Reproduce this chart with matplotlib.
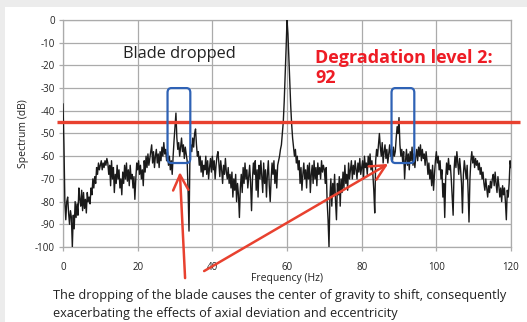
import numpy as np
import matplotlib
matplotlib.use("Agg")
import matplotlib.pyplot as plt
from matplotlib.patches import FancyBboxPatch, Rectangle

plt.rcParams["font.family"] = ["Open Sans", "DejaVu Sans"]
plt.rcParams["axes.unicode_minus"] = False

# spectrum of the dropped-blade case, 0.25 Hz bins, 0-120 Hz (dB)
spectrum_db = [
    -37, -55, -80, -88, -80, -78, -85, -90, -84, -87, -100, -86, -92, -80, -87, -81, -86, -74, -79, -82,
    -75, -84, -76, -83, -79, -85, -76, -80, -78, -81, -74, -77, -70, -74, -69, -72, -65, -68, -63, -66,
    -64, -62, -66, -63, -65, -62, -64, -61, -63, -68, -64, -73, -62, -70, -65, -76, -68, -72, -64, -70,
    -66, -74, -70, -77, -67, -72, -64, -70, -63, -71, -66, -73, -64, -70, -68, -74, -69, -79, -70, -63,
    -66, -62, -68, -64, -70, -66, -73, -62, -67, -60, -65, -59, -64, -61, -58, -55, -63, -58, -65, -60,
    -57, -63, -59, -65, -58, -62, -56, -60, -54, -59, -57, -62, -58, -64, -60, -66, -62, -68, -60, -53,
    -47, -41, -52, -57, -54, -60, -56, -52, -58, -55, -61, -56, -59, -62, -75, -93, -60, -55, -58, -52,
    -56, -50, -48, -55, -60, -58, -64, -60, -67, -62, -69, -64, -66, -60, -68, -62, -70, -65, -61, -67,
    -60, -66, -62, -70, -64, -60, -58, -63, -69, -62, -66, -72, -64, -68, -61, -67, -70, -65, -72, -68,
    -74, -67, -78, -70, -75, -68, -80, -72, -77, -87, -74, -68, -76, -65, -72, -63, -70, -66, -74, -69,
    -64, -72, -84, -70, -63, -68, -62, -75, -66, -78, -64, -70, -62, -69, -76, -63, -72, -66, -78, -68,
    -62, -73, -80, -70, -63, -68, -62, -72, -66, -74, -64, -62, -60, -57, -55, -50, -45, -36, -25, -13,
    0, -6, -17, -28, -38, -46, -52, -56, -60, -57, -63, -60, -66, -62, -72, -65, -75, -68, -63, -70,
    -66, -74, -64, -70, -63, -76, -68, -64, -72, -62, -70, -65, -73, -63, -68, -65, -70, -62, -67, -64,
    -66, -72, -65, -80, -88, -100, -78, -70, -82, -72, -77, -68, -80, -88, -72, -77, -69, -82, -70, -76,
    -67, -74, -64, -72, -68, -75, -63, -70, -66, -62, -70, -64, -68, -62, -66, -70, -63, -67, -61, -68,
    -65, -62, -70, -60, -65, -63, -68, -60, -64, -59, -66, -62, -68, -75, -85, -62, -57, -60, -55, -50,
    -56, -60, -54, -63, -58, -55, -61, -57, -63, -59, -55, -60, -57, -62, -56, -60, -58, -52, -47, -50,
    -43, -55, -60, -57, -63, -58, -70, -62, -57, -64, -59, -66, -58, -62, -56, -64, -59, -65, -60, -57,
    -62, -56, -60, -55, -62, -57, -61, -59, -64, -58, -62, -68, -63, -70, -66, -73, -64, -75, -68, -62,
    -58, -63, -60, -66, -62, -70, -66, -78, -72, -87, -70, -63, -68, -61, -66, -64, -70, -78, -86, -66,
    -60, -65, -58, -63, -68, -61, -66, -72, -85, -68, -62, -66, -70, -64, -75, -89, -70, -62, -58, -63,
    -60, -65, -61, -64, -62, -66, -63, -68, -65, -70, -67, -72, -75, -70, -74, -78, -73, -76, -71, -74,
    -70, -68, -73, -67, -72, -76, -69, -73, -78, -74, -80, -73, -77, -74, -80, -88, -75, -78, -72, -62,
    -65,
]
freq_hz = np.linspace(0, 120, len(spectrum_db))

threshold_db = -45
box_spans = [(28.0, 34.1), (88.0, 94.1)]   # Hz ranges of the highlighted sidebands
box_db = (-63, -30)

x_ticks = [0, 20, 40, 60, 80, 100, 120]
y_ticks = list(range(-100, 1, 10))

RED_LINE = "#e8412f"
RED_TEXT = "#ee1c25"
BLUE = "#2f62b5"
GRID = "#ababab"

fig = plt.figure(figsize=(5.27, 3.22), dpi=100, facecolor="#ececec")
fig.patches.append(Rectangle((5 / 527, 0), 522 / 527, 315 / 322, transform=fig.transFigure,
                             facecolor="white", edgecolor="none", zorder=-10))
ax = fig.add_axes([63 / 527, 75 / 322, 448 / 527, 227 / 322])
ax.set_zorder(2)
ax.set_facecolor("white")

ax.plot(freq_hz, spectrum_db, color="#1a1a1a", lw=1.0, zorder=3)

ax.set_xlim(0, 120)
ax.set_ylim(-100, 0)
ax.set_xticks(x_ticks)
ax.set_yticks(y_ticks)
ax.grid(True, color=GRID, lw=0.9)
for sp in ax.spines.values():
    sp.set_color(GRID)
    sp.set_linewidth(0.9)
ax.tick_params(axis="both", colors=GRID, length=3, width=0.9, labelsize=7, labelcolor="#222222")
ax.tick_params(axis="x", pad=8)
ax.tick_params(axis="y", pad=3)
ax.set_xlabel("Frequency (Hz)", fontsize=7.5, color="#222222", labelpad=0)
ax.set_ylabel("Spectrum (dB)", fontsize=7.5, color="#222222", labelpad=4)

# threshold for degradation level 2
ax.plot([-1.6, 122.4], [threshold_db, threshold_db], color=RED_LINE, lw=2.4,
        clip_on=False, zorder=4, solid_capstyle="butt")

for x0, x1 in box_spans:
    ax.add_patch(FancyBboxPatch((x0, box_db[0]), x1 - x0, box_db[1] - box_db[0],
                                boxstyle="round,pad=0,rounding_size=1.0",
                                mutation_aspect=2.0, facecolor="none",
                                edgecolor=BLUE, lw=1.6, zorder=5))

ax.text(16.0, -15.0, "Blade dropped", fontsize=11.8, color="#222222", va="center")
ax.text(67.6, -21.2, "Degradation level 2:\n92", fontsize=13, color=RED_TEXT,
        fontweight="bold", va="center", ha="left", linespacing=1.1)

arrow = dict(arrowstyle="->,head_length=1.1,head_width=0.55", color=RED_LINE, lw=1.8,
             shrinkA=0, shrinkB=0)
ax.annotate("", xy=(31.3, -67), xytext=(32.7, -113.7), arrowprops=arrow,
            annotation_clip=False, zorder=6)
ax.annotate("", xy=(87.1, -63.4), xytext=(37.8, -110.6), arrowprops=arrow,
            annotation_clip=False, zorder=6)

fig.text(53 / 527, 1 - 295 / 322,
         "The dropping of the blade causes the center of gravity to shift, consequently",
         fontsize=9.2, color="#222222", va="center", ha="left")
fig.text(53 / 527, 1 - 313 / 322,
         "exacerbating the effects of axial deviation and eccentricity",
         fontsize=9.2, color="#222222", va="center", ha="left")

fig.savefig("out.png", dpi=100, facecolor=fig.get_facecolor())
